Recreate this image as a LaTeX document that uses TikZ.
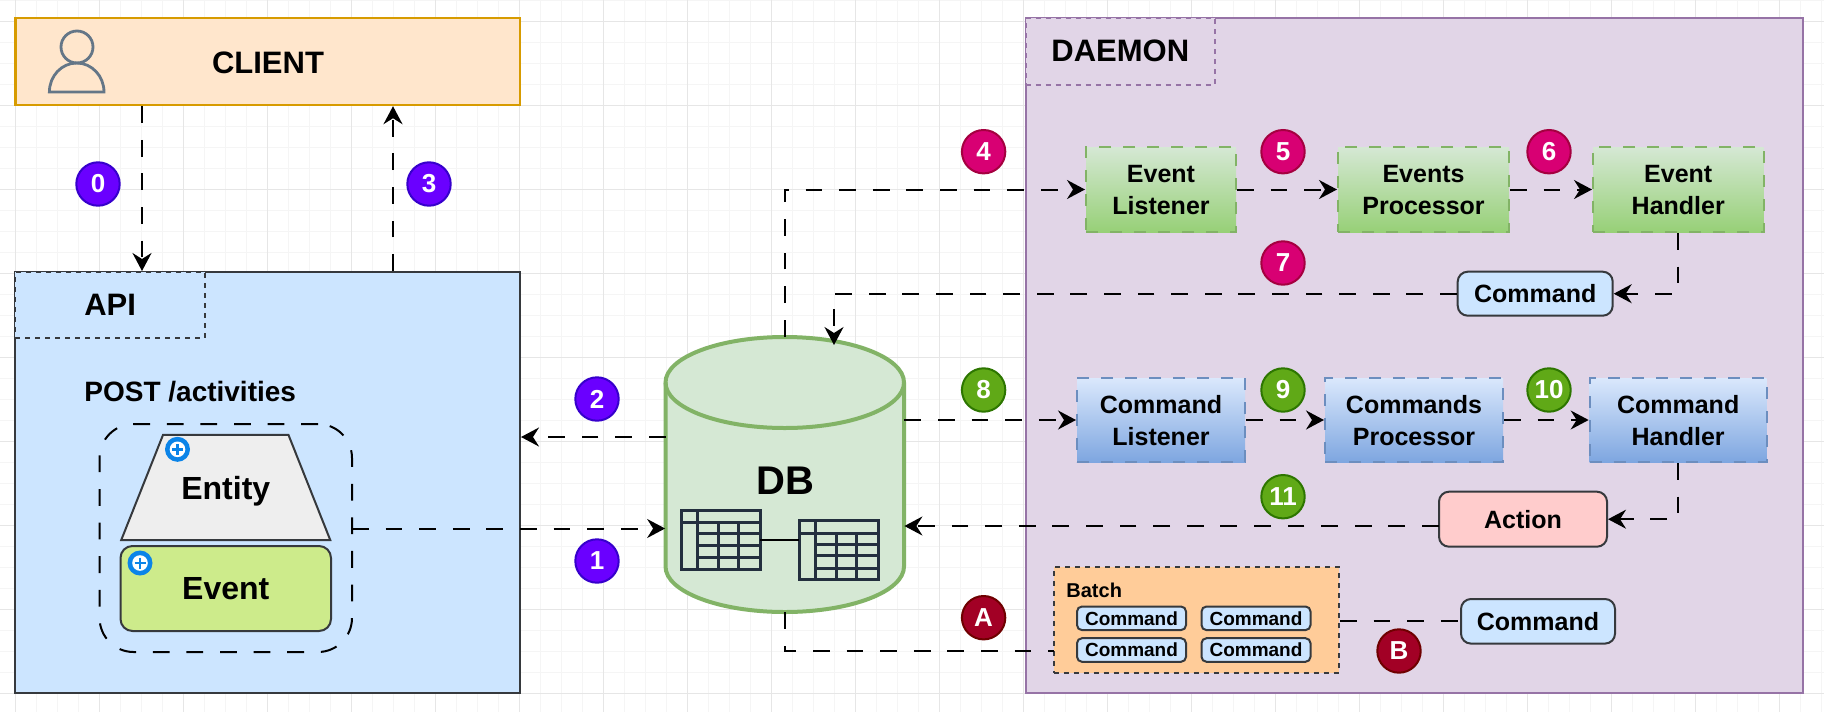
\documentclass[tikz,border=0pt]{standalone}
\usepackage{fontspec}
\setmainfont{Liberation Sans}
\usetikzlibrary{arrows.meta}
\usetikzlibrary{shapes.geometric}
\usetikzlibrary{positioning}

\definecolor{gridmajor}{HTML}{E6E6E6}
\definecolor{gridminor}{HTML}{F5F5F5}
\definecolor{darkline}{HTML}{36393D}
\definecolor{plusblue}{HTML}{0B84E8}
\definecolor{tableline}{HTML}{232F3E}
\definecolor{cpale}{HTML}{CCE5FF}
\definecolor{corange}{HTML}{D79B00}
\definecolor{corangeF}{HTML}{FFE6CC}
\definecolor{cpurple}{HTML}{9673A6}
\definecolor{cpurpleF}{HTML}{E1D5E7}
\definecolor{cuser}{HTML}{647687}
\definecolor{centity}{HTML}{EEEEEE}
\definecolor{cevent}{HTML}{CDEB8B}
\definecolor{caction}{HTML}{FFCCCC}
\definecolor{cbatch}{HTML}{FFCC99}
\definecolor{cgreen}{HTML}{82B366}
\definecolor{cgreenA}{HTML}{D5E8D4}
\definecolor{cgreenB}{HTML}{97D077}
\definecolor{cblue}{HTML}{6C8EBF}
\definecolor{cblueA}{HTML}{DAE8FC}
\definecolor{cblueB}{HTML}{7EA6E0}
\definecolor{cviolet}{HTML}{3700CC}
\definecolor{cvioletF}{HTML}{6A00FF}
\definecolor{cpink}{HTML}{A50040}
\definecolor{cpinkF}{HTML}{D80073}
\definecolor{cleaf}{HTML}{2D7600}
\definecolor{cleafF}{HTML}{60A917}
\definecolor{cred}{HTML}{6F0000}
\definecolor{credF}{HTML}{A20025}

\tikzset{
	bluebox/.style={draw=darkline,fill=#1,line width=1pt,inner sep=0pt,align=center},
	bluebox/.default=cpale,
	textbig/.style={font=\bfseries\fontsize{15.5}{18}\selectfont},
	textmid/.style={font=\bfseries\fontsize{12.5}{16}\selectfont},
	tabbox/.style n args={2}{draw=#1,fill=#2,line width=1pt,dash pattern=on 2.5pt off 2.5pt,inner sep=0pt,textbig},
	flowplain/.style={line width=1pt,dash pattern=on 8.4pt off 8.4pt},
	flowline/.style={flowplain,-{Stealth[length=9pt,width=9.5pt,inset=3pt]}},
	greenstep/.style={inner sep=0pt,align=center,textmid,line width=1pt,dash pattern=on 6pt off 6pt,
		draw=cgreen,top color=cgreenA,bottom color=cgreenB,minimum height=42.5pt,text depth=-2pt},
	bluestep/.style={inner sep=0pt,align=center,textmid,line width=1pt,dash pattern=on 6pt off 6pt,
		draw=cblue,top color=cblueA,bottom color=cblueB,minimum height=42pt,text depth=-2pt},
	cmdbox/.style={bluebox,rounded corners=5pt,textmid},
	cmdsmall/.style={bluebox,rounded corners=2.5pt,minimum width=54.5pt,minimum height=11.8pt,
		font=\bfseries\fontsize{9.5}{11}\selectfont},
	badge/.style n args={2}{circle,draw=#1,fill=#2,line width=1pt,inner sep=0pt,minimum size=21.7pt,
		text=white,font=\bfseries\fontsize{13}{15}\selectfont},
	badgeviolet/.style={badge={cviolet}{cvioletF}},
	badgepink/.style={badge={cpink}{cpinkF}},
	badgegreen/.style={badge={cleaf}{cleafF}},
	badgered/.style={badge={cred}{credF}},
	plusmark/.pic={
		\fill[plusblue] (0,0) circle[radius=12.5];
		\fill[white] (0,0) circle[radius=7.8];
		\draw[plusblue,line width=1.3pt] (-5.5,0) -- (5.5,0) (0,-5.5) -- (0,5.5);
	},
	dbtable/.pic={
		\draw[tableline,line width=1.5pt] (0,0) rectangle (79,59);
		\draw[tableline,line width=1.5pt] (0,12.3) -- (79,12.3) (16.6,0) -- (16.6,59);
		\foreach \col in {37.5,57.3} \draw[tableline,line width=1.5pt] (\col,12.3) -- (\col,59);
		\foreach \row in {23.3,35,47.3} \draw[tableline,line width=1.5pt] (16.6,\row) -- (79,\row);
		\coordinate (-west) at (0,30);
		\coordinate (-east) at (79,30);
	},
}

\begin{document}
\begin{tikzpicture}[x=0.5pt,y=-0.5pt]
	\useasboundingbox (0,0) rectangle (1824,712);
	\fill[white] (0,0) rectangle (1824,712);

	% grid
	\foreach \k in {0,...,87} \draw[gridminor,line width=0.5pt] ({-5.6+21*\k},0) -- ({-5.6+21*\k},712);
	\foreach \k in {0,...,33} \draw[gridminor,line width=0.5pt] (0,{0.7+21*\k}) -- (1824,{0.7+21*\k});
	\foreach \k in {0,...,21} \draw[gridmajor,line width=0.5pt] ({15.4+84*\k},0) -- ({15.4+84*\k},712);
	\foreach \k in {0,...,8} \draw[gridmajor,line width=0.5pt] (0,{21.7+84*\k}) -- (1824,{21.7+84*\k});

	% containers
	\node[draw=corange,fill=corangeF,line width=1.2pt,minimum width=252.3pt,minimum height=43.5pt,inner sep=0pt] (client) at (267.7,61.5) {};
	\node[textbig] (clientlabel) at (268,63) {CLIENT};
	\node[bluebox,minimum width=252.3pt,minimum height=210.5pt] (api) at (267.7,482.5) {};
	\node[tabbox={darkline}{cpale},minimum width=94.8pt,minimum height=33pt] (apitab) at (110.2,305) {API};
	\node[draw=cpurple,fill=cpurpleF,line width=1.2pt,minimum width=388.6pt,minimum height=337.5pt,inner sep=0pt] (daemon) at (1414.35,355.5) {};
	\node[tabbox={cpurple}{cpurpleF},minimum width=94.6pt,minimum height=33.3pt] (daemontab) at (1120.3,51.3) {DAEMON};

	% user icon
	\draw[cuser,line width=1.4pt] (77,47) circle[x radius=16,y radius=16];
	\draw[cuser,line width=1.4pt] (49.4,92) arc[start angle=180,end angle=360,x radius=27.3,y radius=29] -- cycle;

	% api content
	\node[font=\bfseries\fontsize{14}{16}\selectfont,anchor=west,inner sep=0pt] (postlabel) at (84,392) {POST /activities};
	\node[flowplain,draw,rounded corners=17pt,minimum width=126.2pt,minimum height=114pt,inner sep=0pt] (group) at (225.8,538) {};
	\node[trapezium,trapezium left angle=38,trapezium right angle=38,trapezium stretches=true,draw=darkline,
		fill=centity,line width=1pt,inner sep=0pt,minimum width=105.25pt,minimum height=52.65pt,text depth=0pt,
		font=\bfseries\fontsize{16}{18}\selectfont] (entity) at (225.75,487.4) {Entity};
	\node[bluebox=cevent,rounded corners=6pt,minimum width=105.25pt,minimum height=42.5pt,
		font=\bfseries\fontsize{16}{18}\selectfont] (event) at (225.75,588.5) {Event};
	\pic at (177.5,449.3) {plusmark};
	\pic at (140,563) {plusmark};

	% db
	\node[minimum width=119.25pt,minimum height=137.5pt,inner sep=0pt] (db) at (784.75,474.5) {};
	\path[draw=cgreen,fill=cgreenA,line width=2pt]
		(665.5,382.5) -- (665.5,566.5) arc[start angle=180,end angle=0,x radius=119.25,y radius=45.5]
		-- (904,382.5) arc[start angle=360,end angle=180,x radius=119.25,y radius=45.5] -- cycle;
	\draw[cgreen,line width=2pt]
		(665.5,382.5) arc[start angle=180,end angle=0,x radius=119.25,y radius=45.5];
	\node[font=\bfseries\fontsize{20}{22}\selectfont] (dblabel) at (785,481) {DB};
	\pic (tbla) at (681,510) {dbtable};
	\pic (tblb) at (799,520.7) {dbtable};
	\draw[line width=1pt] (tbla-east) -- (tbla-east -| tblb-west);

	% daemon content
	\node[greenstep,minimum width=75pt] (evlistener) at (1161,189.5) {Event\\Listener};
	\node[greenstep,minimum width=85.5pt] (evprocessor) at (1423.5,189.5) {Events\\Processor};
	\node[greenstep,minimum width=85.25pt] (evhandler) at (1678.25,189.5) {Event\\Handler};
	\node[cmdbox,minimum width=77.5pt,minimum height=22pt] (cmdevent) at (1535.2,293.7) {Command};
	\node[bluestep,minimum width=84pt] (cmdlistener) at (1161,420) {Command\\Listener};
	\node[bluestep,minimum width=89pt] (cmdprocessor) at (1414,420) {Commands\\Processor};
	\node[bluestep,minimum width=88.5pt] (cmdhandler) at (1678.15,420) {Command\\Handler};
	\node[bluebox=caction,rounded corners=5pt,textmid,minimum width=84pt,minimum height=27.5pt] (action) at (1523,519.2) {Action};
	\node[bluebox=cbatch,dash pattern=on 2.5pt off 2.5pt,minimum width=142.7pt,minimum height=52.7pt] (batch) at (1196.3,620) {};
	\node[font=\bfseries\fontsize{10}{12}\selectfont,anchor=west,inner sep=0pt] (batchlabel) at (1066,590) {Batch};
	\node[cmdsmall] (cmda) at (1131.5,618.3) {Command};
	\node[cmdsmall] (cmdb) at (1256,618.3) {Command};
	\node[cmdsmall] (cmdc) at (1131.5,650) {Command};
	\node[cmdsmall] (cmdd) at (1256,650) {Command};
	\node[cmdbox,minimum width=77pt,minimum height=22.3pt] (cmdlast) at (1538,621.3) {Command};

	% connectors
	\coordinate (dbout) at (665.5,437);
	\coordinate (grpout) at (352,528.5);
	\coordinate (actout) at (1438.8,526);
	\coordinate (dbtop) at (834,345);
	\coordinate (batchin) at (1053.6,651.3);
	\draw[flowline] ([xshift=-62.85pt]client.south) -- ([xshift=-62.85pt]api.north);
	\draw[flowline] ([xshift=62.65pt]api.north) -- ([xshift=62.65pt]client.south);
	\draw[flowline] (dbout) -- (dbout -| api.east);
	\draw[flowline] (grpout) -- (grpout -| db.west);
	\draw[flowline] (db.north) |- (evlistener.west);
	\draw[flowline] (evlistener) -- (evprocessor);
	\draw[flowline] (evprocessor) -- (evhandler);
	\draw[flowline] (evhandler.south) |- (cmdevent.east);
	\draw[flowline] (cmdevent.west) -| (dbtop);
	\draw[flowline] (db.east |- cmdlistener.west) -- (cmdlistener.west);
	\draw[flowline] (cmdlistener) -- (cmdprocessor);
	\draw[flowline] (cmdprocessor) -- (cmdhandler);
	\draw[flowline] (cmdhandler.south) |- (action.east);
	\draw[flowline] (actout) -- (actout -| db.east);
	\draw[flowplain] (db.south) |- (batchin);
	\draw[flowplain] (batch.east |- cmdlast.west) -- (cmdlast.west);

	% badges
	\node[badgeviolet] (bzero) at (98,184) {0};
	\node[badgeviolet] (bthree) at (429,184) {3};
	\node[badgeviolet] (btwo) at (597,399) {2};
	\node[badgeviolet] (bone) at (597,561) {1};
	\node[badgepink] (bfour) at (983.6,151.7) {4};
	\node[badgepink] (bfive) at (1283,151.7) {5};
	\node[badgepink] (bsix) at (1549,151.7) {6};
	\node[badgepink] (bseven) at (1283,263) {7};
	\node[badgegreen] (beight) at (983.6,390) {8};
	\node[badgegreen] (bnine) at (1283,390) {9};
	\node[badgegreen] (bten) at (1549,390) {10};
	\node[badgegreen] (beleven) at (1283,496.7) {11};
	\node[badgered] (ba) at (983.6,617.7) {A};
	\node[badgered] (bb) at (1399,651) {B};
\end{tikzpicture}
\end{document}
